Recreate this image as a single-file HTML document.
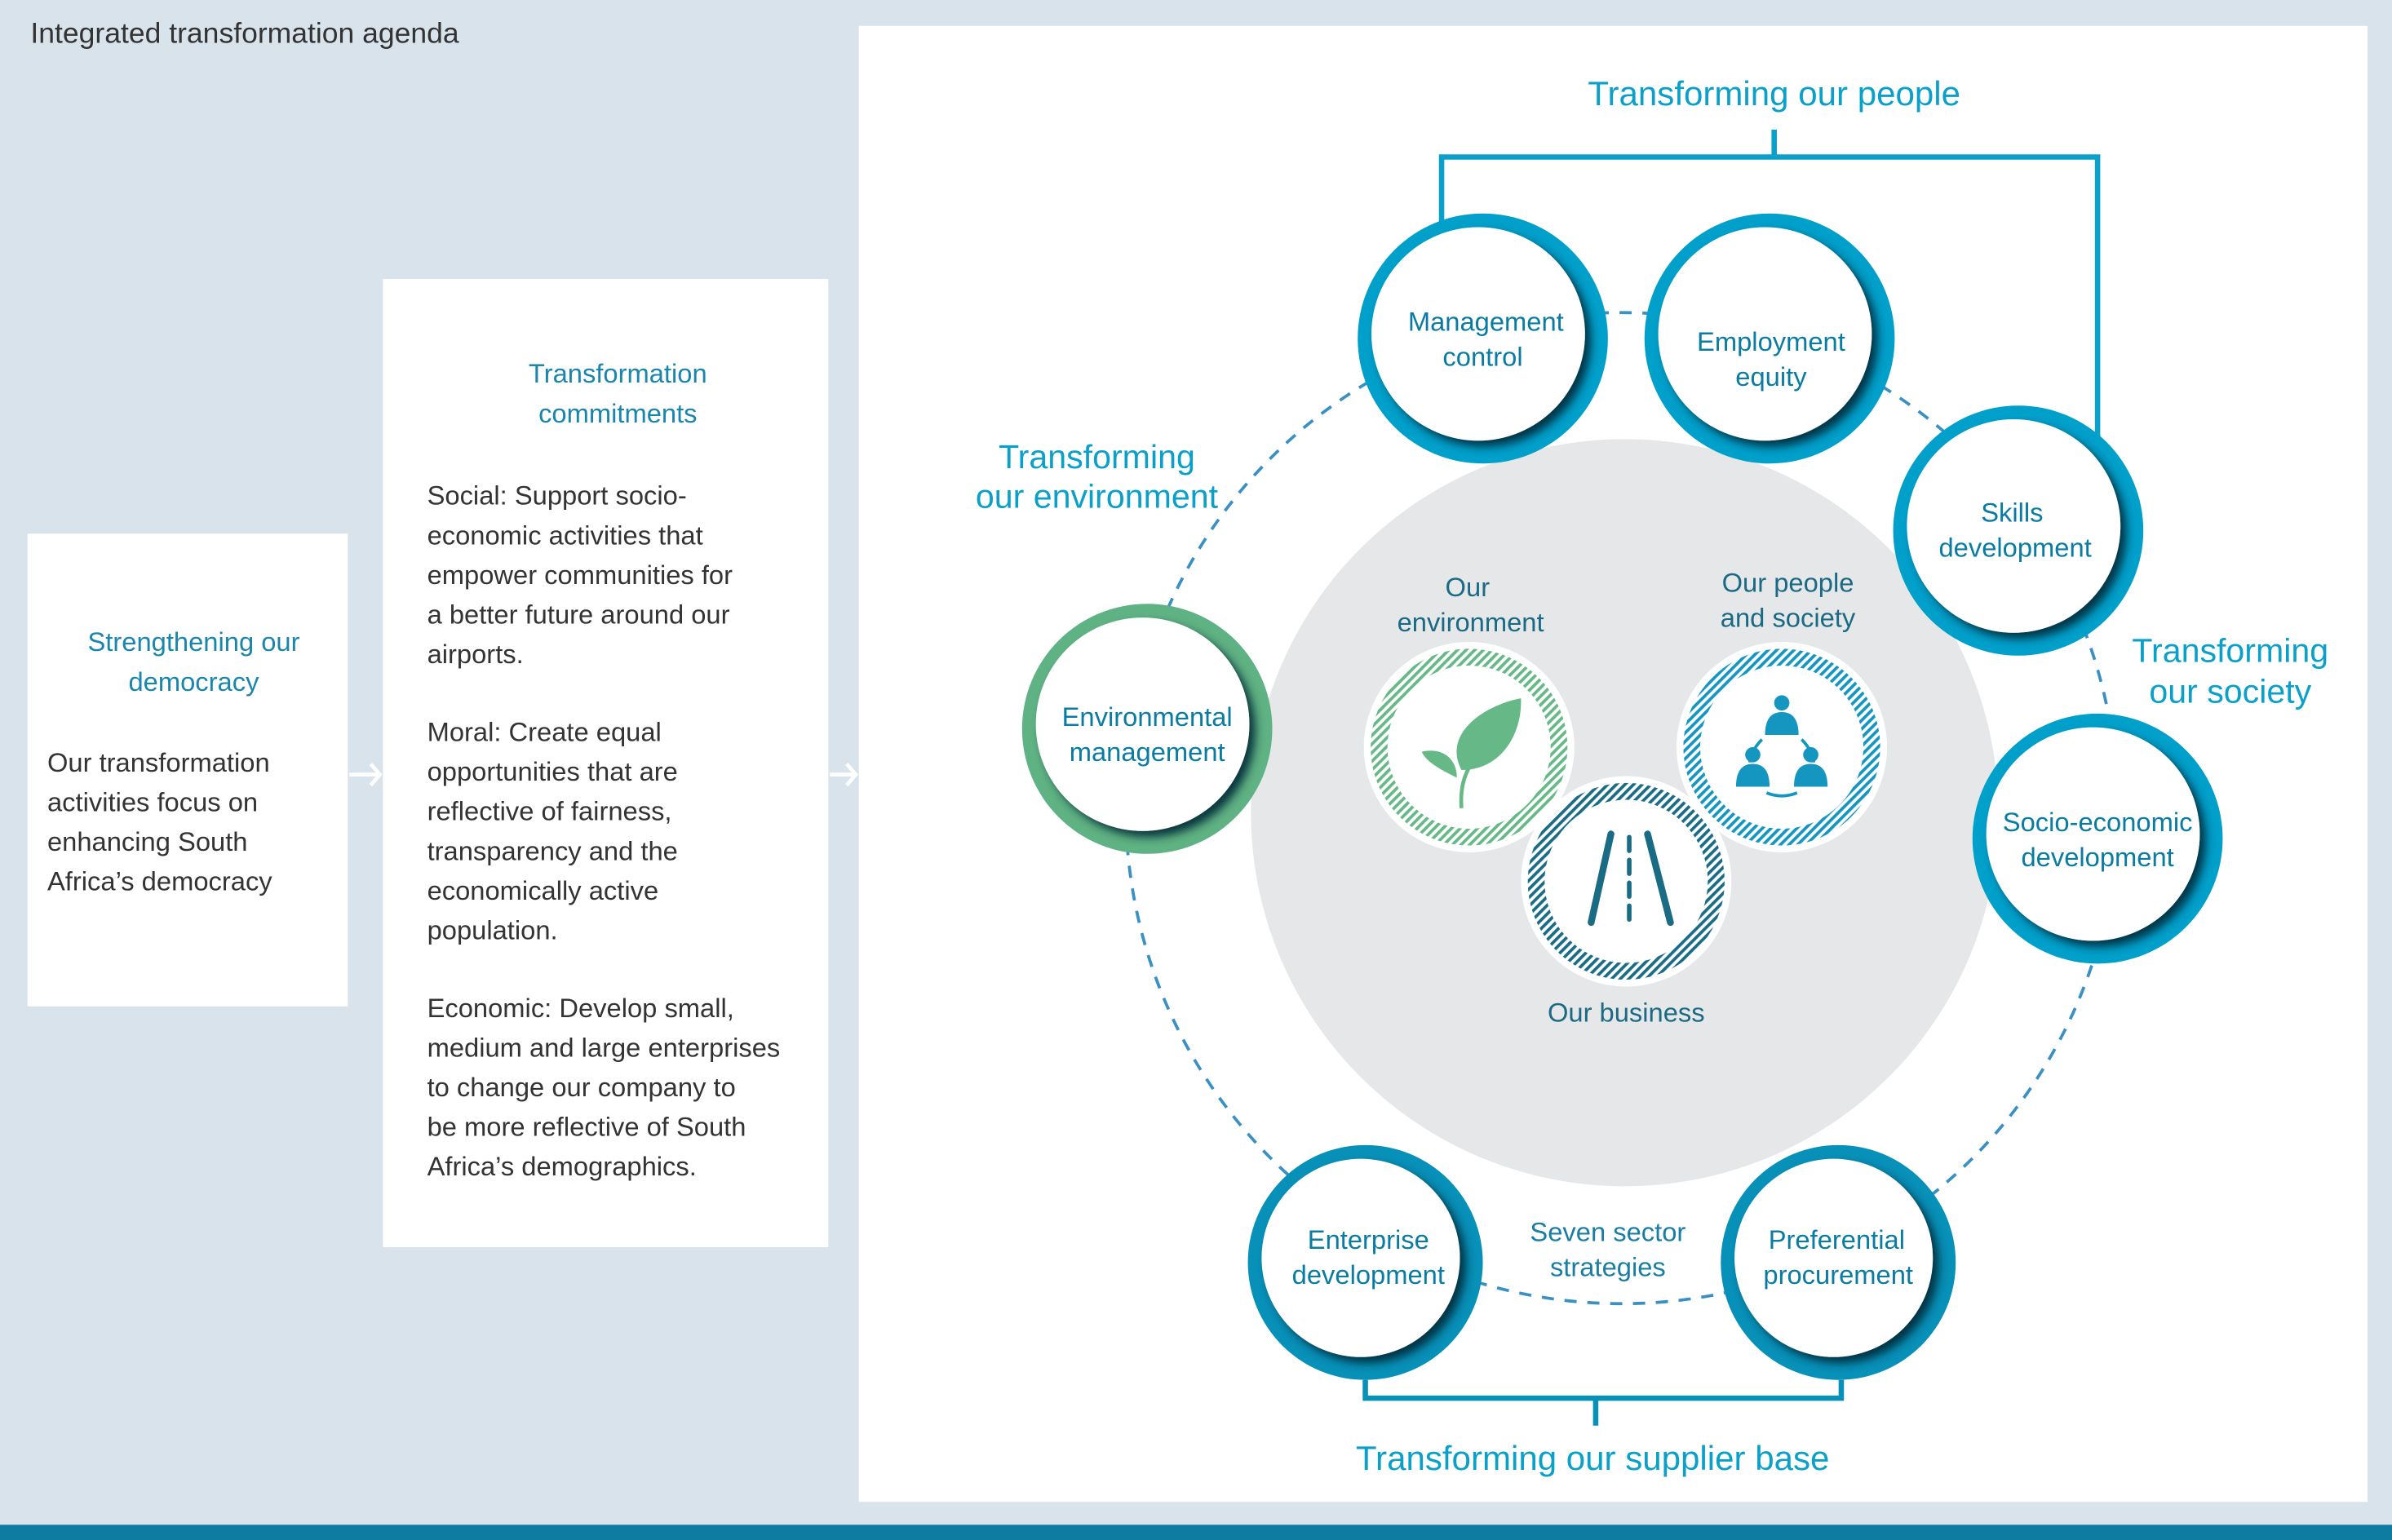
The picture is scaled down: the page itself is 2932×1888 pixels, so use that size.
<!DOCTYPE html>
<html><head><meta charset="utf-8"><style>
html,body{margin:0;padding:0;background:#d9e3ec;}
svg{display:block;}
text{font-family:"Liberation Sans",sans-serif;}
</style></head><body>
<svg width="2932" height="1888" viewBox="0 0 1568 1010" preserveAspectRatio="none" xmlns="http://www.w3.org/2000/svg">
<defs>
<filter id="sh" x="-30%" y="-30%" width="160%" height="160%">
<feDropShadow dx="4" dy="4" stdDeviation="3" flood-color="#012a38" flood-opacity="0.9"/>
</filter>
<pattern id="hg" width="4" height="4" patternUnits="userSpaceOnUse" patternTransform="rotate(45)"><rect width="2" height="4" fill="#66b987"/></pattern>
<pattern id="hb" width="4" height="4" patternUnits="userSpaceOnUse" patternTransform="rotate(45)"><rect width="2" height="4" fill="#1596c0"/></pattern>
<pattern id="hd" width="4" height="4" patternUnits="userSpaceOnUse" patternTransform="rotate(45)"><rect width="2" height="4" fill="#1a6c84"/></pattern>
</defs>
<rect x="0" y="0" width="1568" height="1010" fill="#d9e3ec"/>
<rect x="0" y="1000" width="1568" height="10" fill="#0e7ba0"/>
<text x="20" y="28" font-size="19" fill="#333">Integrated transformation agenda</text>

<rect x="18" y="350" width="210" height="310" fill="#fff"/>
<g font-size="17.5" fill="#1a86ad" text-anchor="middle">
<text x="127" y="427">Strengthening our</text>
<text x="127" y="453">democracy</text>
</g>
<g font-size="17.5" fill="#333">
<text x="31" y="506">Our transformation</text>
<text x="31" y="532">activities focus on</text>
<text x="31" y="558">enhancing South</text>
<text x="31" y="584">Africa’s democracy</text>
</g>

<rect x="251" y="183" width="292" height="635" fill="#fff"/>
<g font-size="17.5" fill="#1a86ad" text-anchor="middle">
<text x="405" y="251">Transformation</text>
<text x="405" y="277">commitments</text>
</g>
<g font-size="17.5" fill="#333">
<text x="280" y="331">Social: Support socio-</text>
<text x="280" y="357">economic activities that</text>
<text x="280" y="383">empower communities for</text>
<text x="280" y="409">a better future around our</text>
<text x="280" y="435">airports.</text>
<text x="280" y="486">Moral: Create equal</text>
<text x="280" y="512">opportunities that are</text>
<text x="280" y="538">reflective of fairness,</text>
<text x="280" y="564">transparency and the</text>
<text x="280" y="590">economically active</text>
<text x="280" y="616">population.</text>
<text x="280" y="667">Economic: Develop small,</text>
<text x="280" y="693">medium and large enterprises</text>
<text x="280" y="719">to change our company to</text>
<text x="280" y="745">be more reflective of South</text>
<text x="280" y="771">Africa’s demographics.</text>
</g>

<g stroke="#fff" stroke-width="2.5" fill="none">
<path d="M229 508 H249 M243 501 L249 508 L243 515"/>
<path d="M544 508 H561 M555 501 L561 508 L555 515"/>
</g>

<rect x="563" y="17" width="989" height="968" fill="#fff"/>
<circle cx="1065" cy="533" r="245" fill="#e6e7e8"/>
<circle cx="1063" cy="530" r="325" fill="none" stroke="#3a8fc3" stroke-width="2" stroke-dasharray="8 7"/>

<g stroke="#0aa0ca" stroke-width="3.5" fill="none">
<path d="M945 150 V103 H1375 V290"/>
<path d="M1163 85 V103"/>
</g>
<g stroke="#0790b8" stroke-width="3.5" fill="none">
<path d="M895 905 V917 H1207 V905"/>
<path d="M1046 917 V935"/>
</g>
<text x="1163" y="69" font-size="22.5" fill="#0aa0ca" text-anchor="middle">Transforming our people</text>
<text x="1044" y="964" font-size="22.5" fill="#0aa0ca" text-anchor="middle">Transforming our supplier base</text>
<g font-size="22" fill="#0aa0ca" text-anchor="middle">
<text x="719" y="307">Transforming</text>
<text x="719" y="333">our environment</text>
<text x="1462" y="434">Transforming</text>
<text x="1462" y="461">our society</text>
</g>

<g font-size="17.5" fill="#1a7ea4" text-anchor="middle">
<text x="1054" y="814">Seven sector</text>
<text x="1054" y="837">strategies</text>
</g>

<g>
<circle cx="972" cy="222" r="82" fill="#00a0cb"/>
<circle cx="969" cy="219" r="70" fill="#fff" filter="url(#sh)"/>
<circle cx="1160" cy="222" r="82" fill="#00a0cb"/>
<circle cx="1157" cy="219" r="70" fill="#fff" filter="url(#sh)"/>
<circle cx="1323" cy="348" r="82" fill="#00a0cb"/>
<circle cx="1320" cy="345" r="70" fill="#fff" filter="url(#sh)"/>
<circle cx="1375" cy="550" r="82" fill="#00a0cb"/>
<circle cx="1372" cy="547" r="70" fill="#fff" filter="url(#sh)"/>
<circle cx="1205" cy="828" r="77" fill="#0790b8"/>
<circle cx="1202" cy="825" r="65" fill="#fff" filter="url(#sh)"/>
<circle cx="895" cy="828" r="77" fill="#0790b8"/>
<circle cx="892" cy="825" r="65" fill="#fff" filter="url(#sh)"/>
<circle cx="752" cy="478" r="82" fill="#5fb283"/>
<circle cx="749" cy="475" r="70" fill="#fff" filter="url(#sh)"/>
</g>
<g font-size="17.5" fill="#0a7ba3" text-anchor="middle">
<text x="974" y="217">Management</text>
<text x="972" y="240">control</text>
<text x="1161" y="230">Employment</text>
<text x="1161" y="253">equity</text>
<text x="1319" y="342">Skills</text>
<text x="1321" y="365">development</text>
<text x="1375" y="545">Socio-economic</text>
<text x="1375" y="568">development</text>
<text x="1204" y="819">Preferential</text>
<text x="1205" y="842">procurement</text>
<text x="897" y="819">Enterprise</text>
<text x="897" y="842">development</text>
<text x="752" y="476">Environmental</text>
<text x="752" y="499">management</text>
</g>

<g>
<circle cx="963" cy="490" r="69" fill="#fff"/>
<circle cx="963" cy="490" r="59" fill="none" stroke="url(#hg)" stroke-width="11"/>
<circle cx="1168" cy="490" r="69" fill="#fff"/>
<circle cx="1168" cy="490" r="59" fill="none" stroke="url(#hb)" stroke-width="11"/>
<circle cx="1066" cy="578" r="69" fill="#fff"/>
<circle cx="1066" cy="578" r="59" fill="none" stroke="url(#hd)" stroke-width="11"/>
</g>
<g fill="#66b987">
<path d="M958 505 C945 480 975 462 997 458 C998 480 985 505 958 505 Z"/>
<path d="M955 510 C945 505 935 500 932 493 C945 490 955 497 955 510 Z"/>
<path d="M958 530 C957 515 960 505 972 490" stroke="#66b987" stroke-width="2.5" fill="none"/>
</g>
<g fill="#1596c0">
<circle cx="1168" cy="461" r="5"/><path d="M1157 482 Q1157 467 1168 467 Q1179 467 1179 482 Z"/>
<circle cx="1149" cy="495" r="5"/><path d="M1138 516 Q1138 501 1149 501 Q1160 501 1160 516 Z"/>
<circle cx="1187" cy="495" r="5"/><path d="M1176 516 Q1176 501 1187 501 Q1198 501 1198 516 Z"/>
</g>
<path d="M1155 485 Q1148 492 1147 500 M1181 485 Q1188 492 1189 500 M1158 520 Q1168 524 1178 520" stroke="#1596c0" stroke-width="2" fill="none"/>
<g stroke="#1a6c84" stroke-width="4.5" fill="none" stroke-linecap="round">
<path d="M1056 547 L1043 605"/>
<path d="M1080 547 L1095 605"/>
<path d="M1068 549 V603" stroke-dasharray="9 6" stroke-width="3"/>
</g>
<g font-size="17.5" fill="#1a6a85" text-anchor="middle">
<text x="962" y="391">Our</text>
<text x="964" y="414">environment</text>
<text x="1172" y="388">Our people</text>
<text x="1172" y="411">and society</text>
<text x="1066" y="670">Our business</text>
</g>
</svg>
</body></html>
